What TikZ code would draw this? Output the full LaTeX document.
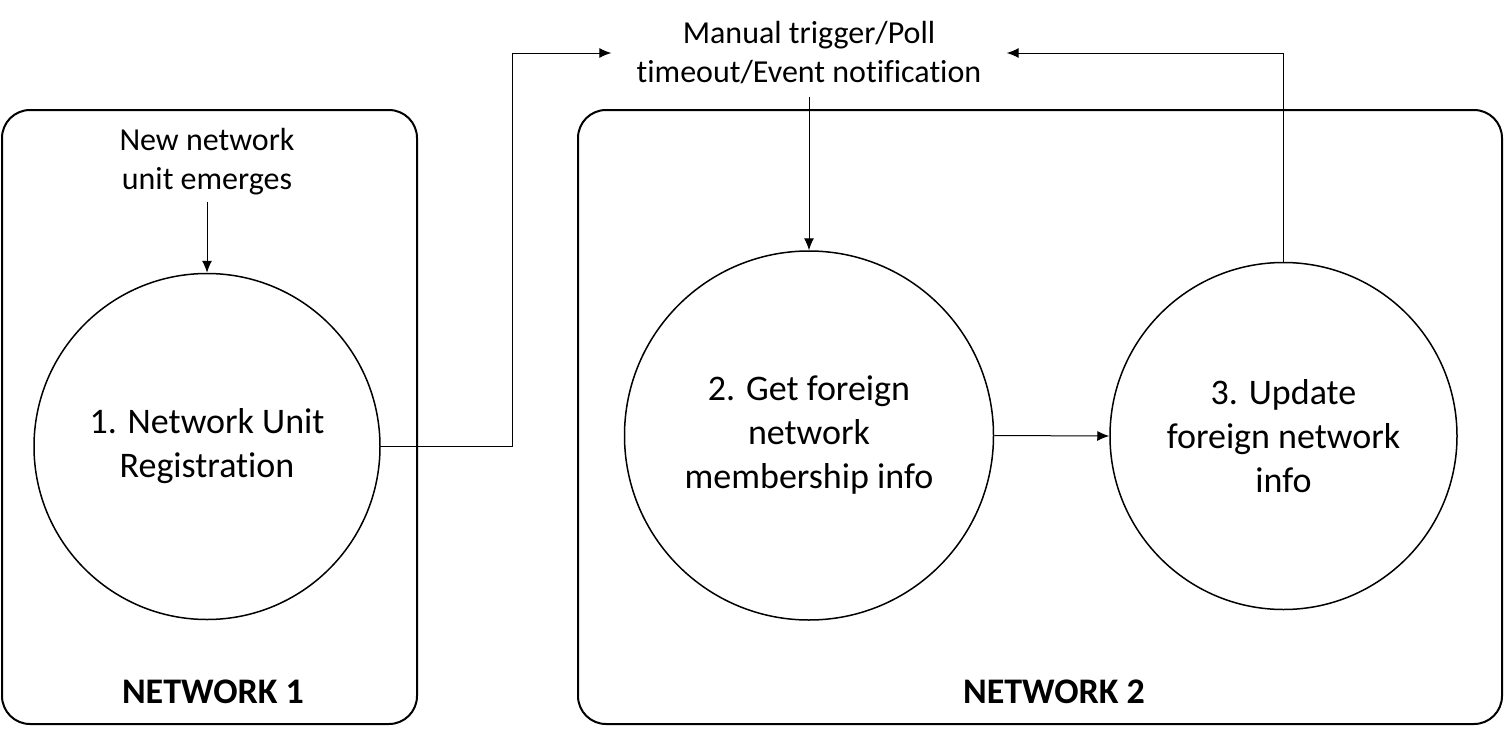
\documentclass[tikz,border=0pt]{standalone}
\usepackage{fontspec}
\setmainfont[Ligatures=CommonOff]{Carlito}
\usetikzlibrary{arrows.meta}

\begin{document}
\begin{tikzpicture}
	[x=0.5pt,y=-0.5pt%
	,every node/.style={font=\fontsize{16pt}{19.5pt}\selectfont,align=center}%
	,netbox/.style={draw,line width=1pt,rounded corners=14pt,%
		minimum width=#1,minimum height=307pt}%
	,proc/.style={draw,circle,line width=0.75pt,minimum size=#1,%
		inner sep=0pt,font=\fontsize{18pt}{22pt}\selectfont}%
	,netlabel/.style={anchor=base,font=\bfseries\fontsize{18pt}{22pt}\selectfont}%
	,flow/.style={-{Latex[length=6pt,width=5pt]},line width=0.5pt}]
	\useasboundingbox (0,0) rectangle (1505,739);
	% the two networks
	\node[netbox=207.5pt] (net1) at (209.5,417) {};
	\node[netbox=462pt] (net2) at (1040,417) {};
	\node[netlabel] (lab1) at (213,703) {NETWORK 1};
	\node[netlabel] (lab2) at (1054,703) {NETWORK 2};
	% steps
	\node[proc=173pt] (reg) at (207,446.5) {1. Network Unit\\Registration};
	\node[proc=184.5pt] (get) at (809,435.5) {2. Get foreign\\network\\membership info};
	\node[proc=173.5pt] (upd) at (1283.5,436) {3. Update\\foreign network\\info};
	% triggers
	\node (emerge) at (207,162) {New network\\unit emerges};
	\node[inner xsep=12.5pt,inner ysep=6pt] (trig) at (809,53)
		{Manual trigger/Poll\\timeout/Event notification};
	\draw[flow] (emerge.south) -- (reg.north);
	\draw[flow] (reg.east) -- ++(132,0) |- (trig.west);
	\draw[flow] (trig.south) -- (get.north);
	\draw[flow] (get.east) -- (upd.west);
	\draw[flow] (upd.north) |- (trig.east);
\end{tikzpicture}
\end{document}
